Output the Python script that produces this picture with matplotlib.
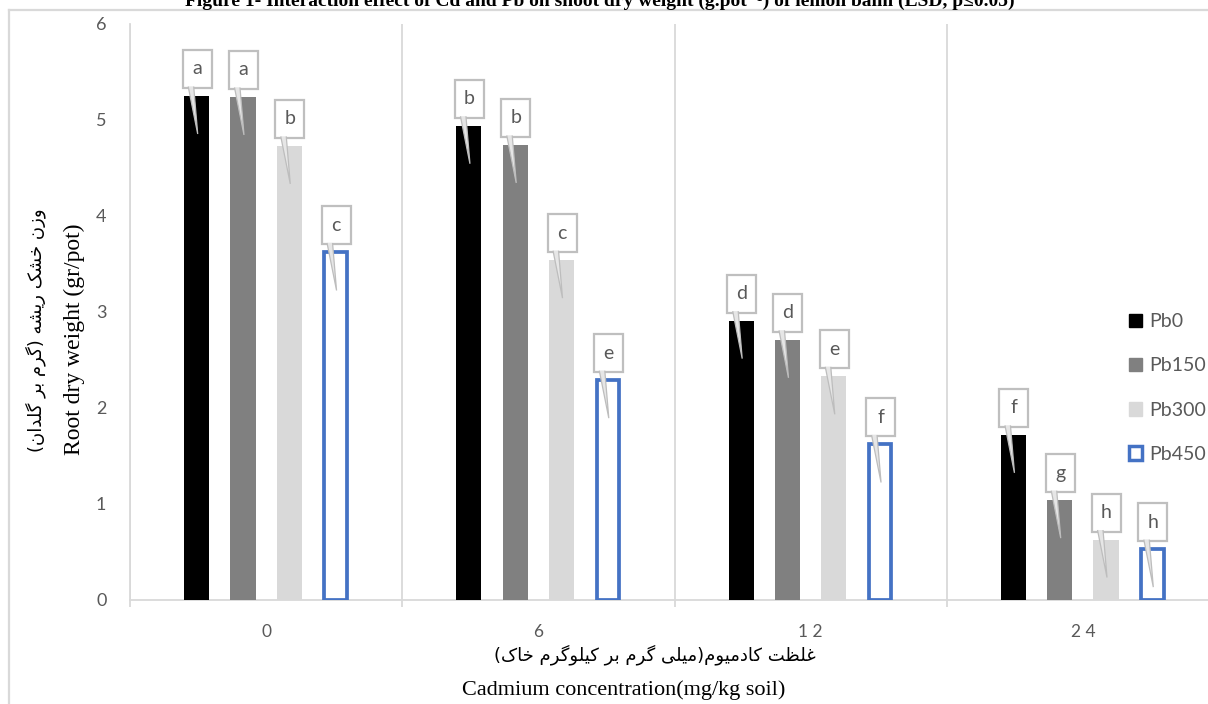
import matplotlib
matplotlib.use('Agg')
import matplotlib.pyplot as plt
import matplotlib.transforms as mtransforms
from matplotlib.patches import Patch, Polygon, Rectangle
from matplotlib.lines import Line2D
import numpy as np

# Values
cd_levels = ['0', '6', '1 2', '2 4']
series_names = ['Pb0', 'Pb150', 'Pb300', 'Pb450']
pb0 = [5.25, 4.94, 2.91, 1.72]
pb150 = [5.24, 4.74, 2.71, 1.04]
pb300 = [4.73, 3.54, 2.33, 0.63]
pb450 = [3.62, 2.29, 1.62, 0.53]
letters_pb0 = ['a', 'b', 'd', 'f']
letters_pb150 = ['a', 'b', 'd', 'g']
letters_pb300 = ['b', 'c', 'e', 'h']
letters_pb450 = ['c', 'e', 'f', 'h']

title = 'Figure 1- Interaction effect of Cd and Pb on shoot dry weight (g.pot\u207b\u00b9) of lemon balm (LSD, p\u22640.05)'
ylabel_en = 'Root dry weight (gr/pot)'
ylabel_fa = 'وزن خشک ریشه (گرم بر گلدان)'
xlabel_en = 'Cadmium concentration(mg/kg soil)'
xlabel_fa = 'غلظت کادمیوم(میلی گرم بر کیلوگرم خاک)'

# Arabic-script presentation forms: isolated, final, initial, medial
FORMS = {
    'ا': ('\uFE8D', '\uFE8E'),
    'ب': ('\uFE8F', '\uFE90', '\uFE91', '\uFE92'),
    'ت': ('\uFE95', '\uFE96', '\uFE97', '\uFE98'),
    'خ': ('\uFEA5', '\uFEA6', '\uFEA7', '\uFEA8'),
    'د': ('\uFEA9', '\uFEAA'),
    'ر': ('\uFEAD', '\uFEAE'),
    'ز': ('\uFEAF', '\uFEB0'),
    'ش': ('\uFEB5', '\uFEB6', '\uFEB7', '\uFEB8'),
    'ظ': ('\uFEC5', '\uFEC6', '\uFEC7', '\uFEC8'),
    'غ': ('\uFECD', '\uFECE', '\uFECF', '\uFED0'),
    'ل': ('\uFEDD', '\uFEDE', '\uFEDF', '\uFEE0'),
    'م': ('\uFEE1', '\uFEE2', '\uFEE3', '\uFEE4'),
    'ن': ('\uFEE5', '\uFEE6', '\uFEE7', '\uFEE8'),
    'ه': ('\uFEE9', '\uFEEA', '\uFEEB', '\uFEEC'),
    'و': ('\uFEED', '\uFEEE'),
    'ی': ('\uFBFC', '\uFBFD', '\uFBFE', '\uFBFF'),
    'ک': ('\uFB8E', '\uFB8F', '\uFB90', '\uFB91'),
    'گ': ('\uFB92', '\uFB93', '\uFB94', '\uFB95'),
}


def shape_rtl(text):
    out = []
    for i, ch in enumerate(text):
        if ch not in FORMS:
            out.append(ch)
            continue
        forms = FORMS[ch]
        prev = text[i - 1] if i > 0 else ''
        nxt = text[i + 1] if i + 1 < len(text) else ''
        join_prev = prev in FORMS and len(FORMS[prev]) == 4
        join_next = nxt in FORMS and len(forms) == 4
        if join_prev and join_next:
            out.append(forms[3])
        elif join_prev:
            out.append(forms[1])
        elif join_next:
            out.append(forms[2])
        else:
            out.append(forms[0])
    vis = ''.join(out)[::-1]
    return vis.translate(str.maketrans('()', ')('))


W, H = 1208, 704
fig = plt.figure(figsize=(W / 100, H / 100), dpi=100)
ax = fig.add_axes([130 / W, 1 - 600 / H, (1219 - 130) / W, (600 - 24) / H])

grid_c = '#d9d9d9'
text_c = '#595959'
x = np.arange(len(cd_levels))
offsets = (np.arange(4) - 1.5) * 0.17
bw = 0.092

values = [pb0, pb150, pb300, pb450]
letters = [letters_pb0, letters_pb150, letters_pb300, letters_pb450]
colors = ['#000000', '#808080', '#d9d9d9', 'white']

for i in range(4):
    if i == 3:
        ax.bar(x + offsets[i], values[i], width=bw * 0.9, facecolor='white',
               edgecolor='#4472C4', linewidth=2.7, zorder=3)
    else:
        ax.bar(x + offsets[i], values[i], width=bw, color=colors[i], zorder=3)

# callout labels above every bar
for i in range(4):
    for j in range(len(cd_levels)):
        xc = x[j] + offsets[i]
        trans = fig.dpi_scale_trans + mtransforms.ScaledTranslation(xc, values[i][j], ax.transData)
        ax.add_patch(Rectangle((-0.14, 0.08), 0.29, 0.38, facecolor='white', edgecolor='#bfbfbf',
                               linewidth=1.6, transform=trans, zorder=5, clip_on=False))
        ax.add_patch(Polygon([(-0.085, 0.095), (0.01, -0.38), (-0.03, 0.095)], closed=False,
                             facecolor='#e6e6e6', edgecolor='#bdbdbd', linewidth=0.9,
                             transform=trans, zorder=6, clip_on=False))
        ax.text(0.005, 0.27, letters[i][j], transform=trans, ha='center', va='center',
                fontsize=14, color=text_c, family='Lato', zorder=7)

ax.set_xlim(-0.5, len(cd_levels) - 0.5)
ax.set_ylim(0, 6)
ax.set_xticks(x)
ax.set_xticklabels(cd_levels, fontsize=12.5, color=text_c, family='Lato')
ax.set_xticks(np.arange(len(cd_levels) + 1) - 0.5, minor=True)
ax.set_yticks(np.arange(7))
ax.set_yticklabels([str(v) for v in range(7)], fontsize=13, color=text_c, family='Lato')
ax.set_yticks([0, 6], minor=True)
ax.tick_params(axis='both', which='major', length=0)
ax.tick_params(axis='x', which='major', pad=17)
ax.tick_params(axis='y', which='major', pad=17)
ax.tick_params(axis='both', which='minor', length=5, width=1.3, color=grid_c)
ax.grid(which='minor', axis='x', color=grid_c, linewidth=1.3, zorder=0)
for s in ['top', 'right']:
    ax.spines[s].set_visible(False)
for s in ['left', 'bottom']:
    ax.spines[s].set_color(grid_c)
    ax.spines[s].set_linewidth(1.3)

# legend
handles = [Patch(facecolor=colors[k], edgecolor=colors[k]) for k in range(3)]
handles.append(Patch(facecolor='white', edgecolor='#4472C4', linewidth=2.5))
fig.legend(handles, series_names, loc='center left', bbox_to_anchor=(1111 / W, 1 - 388 / H),
           frameon=False, handlelength=0.7, handleheight=0.7, handletextpad=0.35,
           labelspacing=1.4, prop={'family': 'Lato', 'size': 14}, labelcolor=text_c)

# axis titles
fig.text(74 / W, 1 - 339 / H, ylabel_en, rotation=90, ha='center', va='center',
         fontsize=17, family='Liberation Serif')
fig.text(36 / W, 1 - 330 / H, shape_rtl(ylabel_fa), rotation=90, ha='center', va='center',
         fontsize=13, family='DejaVu Sans')
fig.text(655 / W, 1 - 655 / H, shape_rtl(xlabel_fa), ha='center', va='center',
         fontsize=13, family='DejaVu Sans')
fig.text(624 / W, 1 - 690 / H, xlabel_en, ha='center', va='center',
         fontsize=16, family='Liberation Serif')

# title, cut off at the top edge like the source
fig.text(600 / W, 1 - 6 / H, title, ha='center', va='baseline', fontsize=14,
         weight='bold', family=['Liberation Serif', 'DejaVu Serif'])

# frame of the original chart area
fig.add_artist(Line2D([9 / W, 9 / W], [0, 1 - 10 / H], transform=fig.transFigure,
                      color=grid_c, linewidth=1.6))
fig.add_artist(Line2D([9 / W, 1], [1 - 10 / H, 1 - 10 / H], transform=fig.transFigure,
                      color=grid_c, linewidth=1.6))

fig.savefig('out.png', dpi=100)
